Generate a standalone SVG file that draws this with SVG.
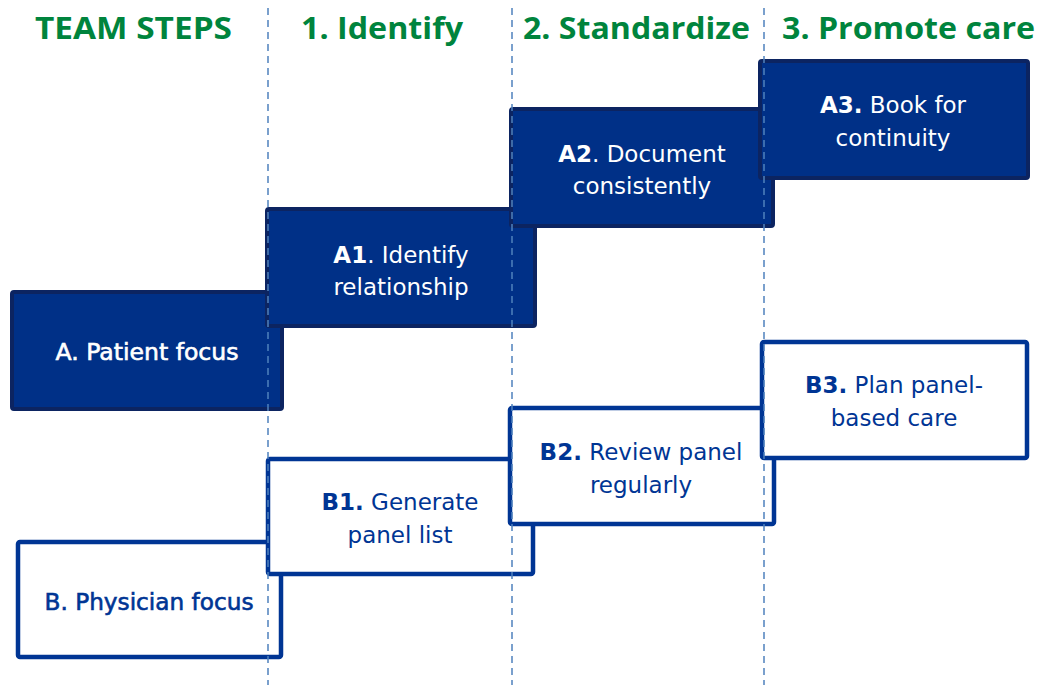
<svg xmlns="http://www.w3.org/2000/svg" width="1052" height="685" viewBox="0 0 1052 685">
<style>
.hdr{font-family:"Open Sans","Liberation Sans",sans-serif;font-weight:700;font-size:31px;fill:#00843d}
.dark rect{fill:#003087;stroke:#0c2461;stroke-width:4}
.light rect{fill:#ffffff;stroke:#003594;stroke-width:4.5}
.dark text{fill:#ffffff}
.light text{fill:#003594}
.lbl{font-family:"DejaVu Sans","Liberation Sans",sans-serif;font-size:23px;text-anchor:middle}
.med{stroke-width:0.6}
.dark .med{stroke:#ffffff}
.light .med{stroke:#003594}
.b{font-weight:700}
.guide{stroke:#4f81bd;stroke-width:1.5;stroke-dasharray:7 5;fill:none}
</style>
<rect width="1052" height="685" fill="#ffffff"/>
<g id="headers">
<text class="hdr" x="35" y="39" textLength="197" lengthAdjust="spacingAndGlyphs">TEAM STEPS</text>
<text class="hdr" x="301" y="39" textLength="162" lengthAdjust="spacingAndGlyphs">1. Identify</text>
<text class="hdr" x="523" y="39" textLength="227" lengthAdjust="spacingAndGlyphs">2. Standardize</text>
<text class="hdr" x="782" y="39" textLength="253" lengthAdjust="spacingAndGlyphs">3. Promote care</text>
</g>
<g id="nodeA" class="dark"><rect x="12" y="292" width="270" height="117" rx="2"/>
<text class="lbl med" x="147" y="360" textLength="183" lengthAdjust="spacingAndGlyphs">A. Patient focus</text></g>
<g id="nodeA1" class="dark"><rect x="267" y="209" width="268" height="117" rx="2"/>
<text class="lbl" x="401" y="263"><tspan class="b">A1</tspan>. Identify</text>
<text class="lbl" x="401" y="295">relationship</text></g>
<g id="nodeA2" class="dark"><rect x="511" y="109" width="262" height="117" rx="2"/>
<text class="lbl" x="642" y="162"><tspan class="b">A2</tspan>. Document</text>
<text class="lbl" x="642" y="194">consistently</text></g>
<g id="nodeA3" class="dark"><rect x="760" y="61" width="268" height="117" rx="2"/>
<text class="lbl" x="893" y="113"><tspan class="b">A3.</tspan> Book for</text>
<text class="lbl" x="893" y="146">continuity</text></g>
<g id="nodeB" class="light"><rect x="18" y="542" width="263" height="115" rx="2"/>
<text class="lbl med" x="149" y="610" textLength="209" lengthAdjust="spacingAndGlyphs">B. Physician focus</text></g>
<g id="nodeB1" class="light"><rect x="268" y="459" width="265" height="115" rx="2"/>
<text class="lbl" x="400" y="510"><tspan class="b">B1.</tspan> Generate</text>
<text class="lbl" x="400" y="543">panel list</text></g>
<g id="nodeB2" class="light"><rect x="510" y="408" width="264" height="116" rx="2"/>
<text class="lbl" x="641" y="460"><tspan class="b">B2.</tspan> Review panel</text>
<text class="lbl" x="641" y="493">regularly</text></g>
<g id="nodeB3" class="light"><rect x="762" y="342" width="265" height="116" rx="2"/>
<text class="lbl" x="894" y="393"><tspan class="b">B3.</tspan> Plan panel-</text>
<text class="lbl" x="894" y="426">based care</text></g>
<g id="connectors">
<line class="guide" x1="268" y1="8" x2="268" y2="685"/>
<line class="guide" x1="512" y1="8" x2="512" y2="685"/>
<line class="guide" x1="764" y1="8" x2="764" y2="685"/>
</g>
</svg>
